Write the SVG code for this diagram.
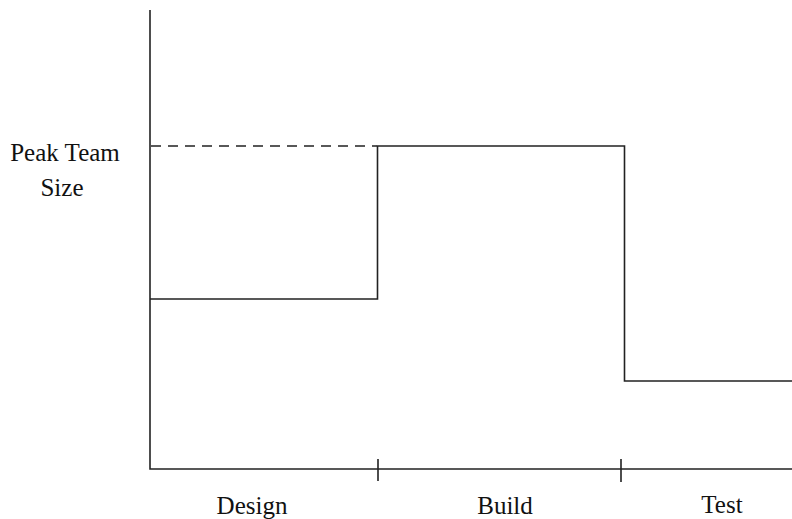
<svg xmlns="http://www.w3.org/2000/svg" width="792" height="519" viewBox="0 0 792 519">
<style>
.ln{stroke:#222;stroke-width:1.6;fill:none}
.ds{stroke:#222;stroke-width:1.4;fill:none;stroke-dasharray:10,7}
.t{font-family:'Liberation Serif','Times New Roman',Times,serif;font-size:25px;fill:#111;text-anchor:middle}
</style>
<rect width="792" height="519" fill="#fff"/>
<g id="axes">
<path class="ln" d="M150,10 V469 H792"/>
<path class="ln" d="M378,459 V481 M621,459 V482"/>
</g>
<g id="connectors">
<path class="ds" d="M151,146 H377"/>
<path class="ln" d="M150,299 H377.5 V146 H624.5 V381 H792"/>
</g>
<g id="labels">
<text class="t" x="65" y="161">Peak Team</text>
<text class="t" x="62" y="196">Size</text>
<text class="t" x="252" y="514">Design</text>
<text class="t" x="505" y="514">Build</text>
<text class="t" x="722" y="513">Test</text>
</g>
</svg>
